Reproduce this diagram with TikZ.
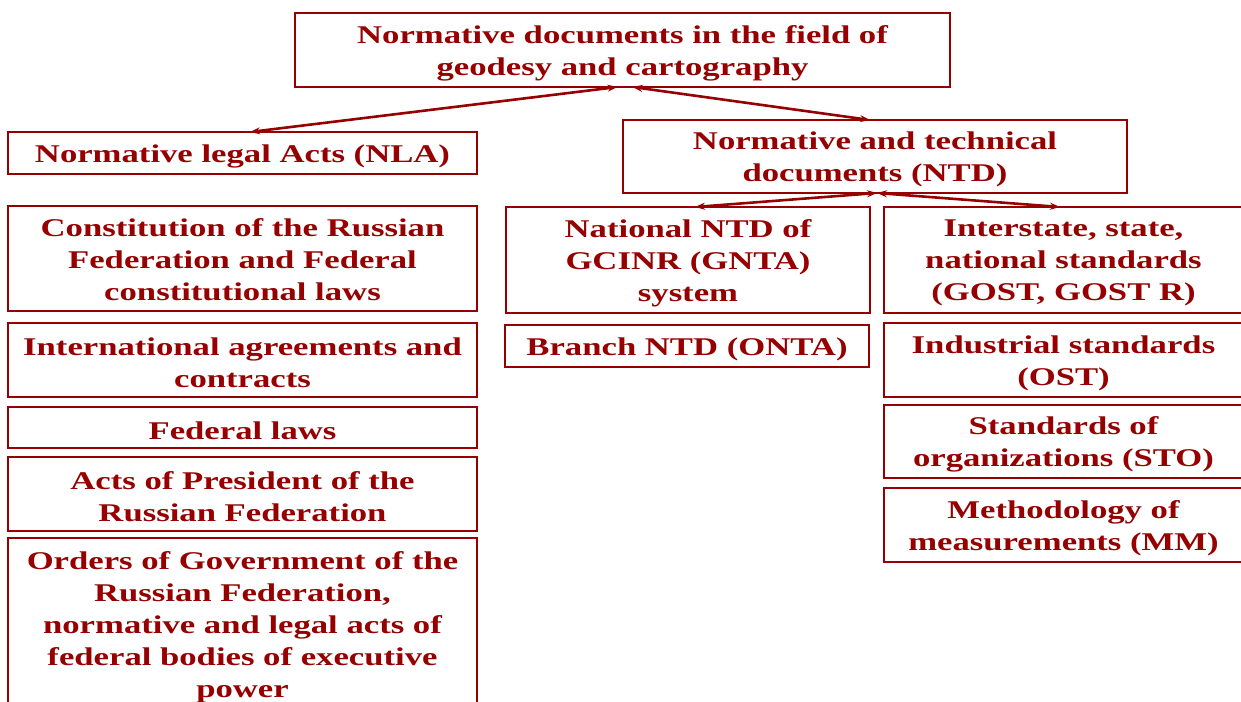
\documentclass[tikz,border=0pt]{standalone}
\usepackage{fontspec}
\setmainfont{Liberation Serif}[FakeStretch=1.36]
\usetikzlibrary{arrows.meta}
\definecolor{dred}{RGB}{150,0,0}
\begin{document}
\begin{tikzpicture}[x=1pt,y=-1pt,
  box/.style={draw=dred,line width=2.8pt,inner sep=0pt,outer sep=0pt},
  lab/.style={align=center,text=dred,inner sep=0pt,yshift=-3pt,
    font=\fontsize{25.5}{32}\selectfont\bfseries},
  arr/.style={draw=dred,line width=2.6pt,
    {Stealth[length=10pt,width=7pt]}-{Stealth[length=10pt,width=7pt]}}]
\clip (0,0) rectangle (1241,701);
\fill[white] (0,0) rectangle (1241,701);
\node[box,minimum width=655pt,minimum height=74pt,
  label={[lab]center:{Normative documents in the field of\\geodesy and cartography}}] (root) at (622.5,50) {};
\node[box,minimum width=469pt,minimum height=42pt,
  label={[lab]center:{Normative legal Acts (NLA)}}] (nla) at (242.5,153) {};
\node[box,minimum width=504pt,minimum height=73pt,
  label={[lab]center:{Normative and technical\\documents (NTD)}}] (ntd) at (875,156.5) {};
\node[box,minimum width=469pt,minimum height=105pt,
  label={[lab,yshift=1.5pt]center:{Constitution of the Russian\\Federation and Federal\\constitutional laws}}] (con) at (242.5,258.5) {};
\node[box,minimum width=469pt,minimum height=74pt,
  label={[lab]center:{International agreements and\\contracts}}] (intl) at (242.5,360) {};
\node[box,minimum width=469pt,minimum height=41pt,
  label={[lab]center:{Federal laws}}] (fed) at (242.5,427.5) {};
\node[box,minimum width=469pt,minimum height=74pt,
  label={[lab]center:{Acts of President of the\\Russian Federation}}] (acts) at (242.5,494) {};
\node[box,minimum width=469pt,minimum height=174pt,
  label={[lab,yshift=1pt]center:{Orders of Government of the\\Russian Federation,\\normative and legal acts of\\federal bodies of executive\\power}}] (ord) at (242.5,625) {};
\node[box,minimum width=364pt,minimum height=106pt,
  label={[lab]center:{National NTD of\\GCINR (GNTA)\\system}}] (nat) at (688,260) {};
\node[box,minimum width=364pt,minimum height=42pt,
  label={[lab]center:{Branch NTD (ONTA)}}] (bra) at (687,346) {};
\node[box,minimum width=359pt,minimum height=106pt,
  label={[lab]center:{Interstate, state,\\national standards\\(GOST, GOST R)}}] (inter) at (1063.5,260) {};
\node[box,minimum width=359pt,minimum height=74pt,
  label={[lab]center:{Industrial standards\\(OST)}}] (ind) at (1063.5,360) {};
\node[box,minimum width=359pt,minimum height=73pt,
  label={[lab]center:{Standards of\\organizations (STO)}}] (sto) at (1063.5,441.5) {};
\node[box,minimum width=359pt,minimum height=74pt,
  label={[lab]center:{Methodology of\\measurements (MM)}}] (mm) at (1063.5,525) {};
\draw[arr] ([xshift=-5pt]root.south) -- ([xshift=7.5pt]nla.north);
\draw[arr] ([xshift=10pt]root.south) -- ([xshift=-5pt]ntd.north);
\draw[arr] ([xshift=2pt]ntd.south) -- ([xshift=7pt]nat.north);
\draw[arr] ([xshift=2pt]ntd.south) -- ([xshift=-3.5pt]inter.north);
\end{tikzpicture}
\end{document}
